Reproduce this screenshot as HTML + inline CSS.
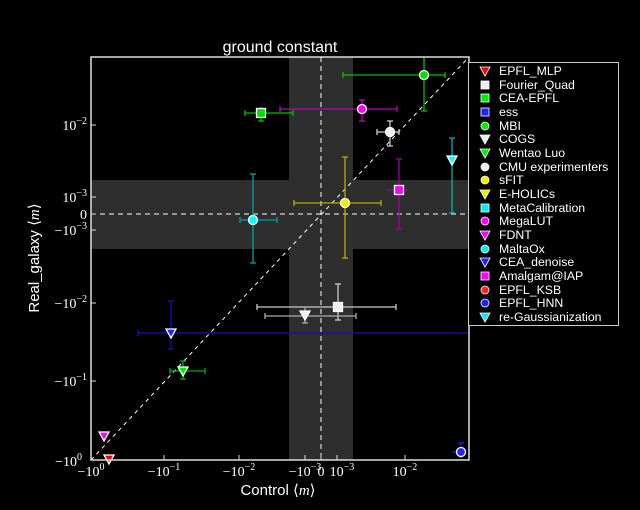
<!DOCTYPE html>
<html><head><style>body{margin:0;background:#000}svg{display:block}text{font-family:"Liberation Sans",sans-serif;fill:#fff}.s{font-family:"Liberation Serif",serif}</style></head><body>
<svg width="640" height="510" viewBox="0 0 640 510" xmlns="http://www.w3.org/2000/svg">
<rect width="640" height="510" fill="#000"/>
<rect x="91" y="180" width="378" height="69" fill="#2e2e2e"/>
<rect x="289" y="57" width="64" height="403" fill="#2e2e2e"/>
<line x1="91" y1="214" x2="469" y2="214" stroke="#fff" stroke-dasharray="5,4"/>
<line x1="321" y1="57" x2="321" y2="460" stroke="#fff" stroke-dasharray="5,4"/>
<line x1="91" y1="460" x2="469" y2="57" stroke="#fff" stroke-dasharray="4,4"/>
<g stroke-width="1.3">
<g stroke="#00c000"><line x1="343" y1="75" x2="445" y2="75"/><line x1="424" y1="57" x2="424" y2="111"/><line x1="343" y1="72" x2="343" y2="78"/><line x1="445" y1="72" x2="445" y2="78"/><line x1="421" y1="111" x2="427" y2="111"/></g>
<circle cx="424" cy="75" r="4.5" fill="#00e000" stroke="#fff"/>
<g stroke="#c000c0"><line x1="280" y1="109" x2="397" y2="109"/><line x1="362" y1="100" x2="362" y2="121"/><line x1="280" y1="106" x2="280" y2="112"/><line x1="397" y1="106" x2="397" y2="112"/><line x1="359" y1="100" x2="365" y2="100"/><line x1="359" y1="121" x2="365" y2="121"/></g>
<circle cx="362" cy="109" r="4.5" fill="#f0f" stroke="#fff"/>
<g stroke="#00c000"><line x1="245" y1="113" x2="293" y2="113"/><line x1="261" y1="107" x2="261" y2="121"/><line x1="245" y1="110" x2="245" y2="116"/><line x1="293" y1="110" x2="293" y2="116"/><line x1="258" y1="121" x2="264" y2="121"/></g>
<rect x="256.5" y="108.5" width="9" height="9" fill="#00e000" stroke="#fff"/>
<g stroke="#ccc"><line x1="377" y1="132" x2="399" y2="132"/><line x1="390" y1="121" x2="390" y2="146"/><line x1="377" y1="129" x2="377" y2="135"/><line x1="399" y1="129" x2="399" y2="135"/><line x1="387" y1="121" x2="393" y2="121"/><line x1="387" y1="146" x2="393" y2="146"/></g>
<circle cx="390" cy="132" r="4.5" fill="#eee" stroke="#fff"/>
<g stroke="#00b0b0"><line x1="452" y1="138" x2="452" y2="213"/><line x1="449" y1="138" x2="455" y2="138"/><line x1="449" y1="213" x2="455" y2="213"/></g>
<polygon points="447,156 457,156 452,165" fill="#0ff" stroke="#fff"/>
<g stroke="#a000a0"><line x1="387" y1="190" x2="408" y2="190"/><line x1="399" y1="159" x2="399" y2="229"/><line x1="396" y1="159" x2="402" y2="159"/><line x1="396" y1="229" x2="402" y2="229"/></g>
<rect x="394.5" y="185.5" width="9" height="9" fill="#f0f" stroke="#fff"/>
<g stroke="#b0b000"><line x1="294" y1="203" x2="381" y2="203"/><line x1="345" y1="157" x2="345" y2="258"/><line x1="294" y1="200" x2="294" y2="206"/><line x1="381" y1="200" x2="381" y2="206"/><line x1="342" y1="157" x2="348" y2="157"/><line x1="342" y1="258" x2="348" y2="258"/></g>
<circle cx="345" cy="203" r="4.5" fill="#ee0" stroke="#fff"/>
<g stroke="#00a0a0"><line x1="240" y1="220" x2="277" y2="220"/><line x1="253" y1="174" x2="253" y2="263"/><line x1="240" y1="217" x2="240" y2="223"/><line x1="277" y1="217" x2="277" y2="223"/><line x1="250" y1="174" x2="256" y2="174"/><line x1="250" y1="263" x2="256" y2="263"/></g>
<circle cx="253" cy="220" r="4.5" fill="#0ff" stroke="#fff"/>
<g stroke="#ccc"><line x1="257" y1="307" x2="396" y2="307"/><line x1="338" y1="284" x2="338" y2="320"/><line x1="257" y1="304" x2="257" y2="310"/><line x1="396" y1="304" x2="396" y2="310"/><line x1="335" y1="284" x2="341" y2="284"/><line x1="335" y1="320" x2="341" y2="320"/></g>
<rect x="333.5" y="302.5" width="9" height="9" fill="#eee" stroke="#fff"/>
<g stroke="#aaa"><line x1="265" y1="316" x2="356" y2="316"/><line x1="305" y1="308" x2="305" y2="323"/><line x1="265" y1="313" x2="265" y2="319"/><line x1="356" y1="313" x2="356" y2="319"/><line x1="302" y1="323" x2="308" y2="323"/></g>
<polygon points="300,311 310,311 305,320" fill="#eee" stroke="#fff"/>
<g stroke="#1010c0"><line x1="138" y1="333" x2="469" y2="333"/><line x1="171" y1="301" x2="171" y2="349"/><line x1="138" y1="330" x2="138" y2="336"/><line x1="168" y1="301" x2="174" y2="301"/><line x1="168" y1="349" x2="174" y2="349"/></g>
<polygon points="166,329 176,329 171,338" fill="#22f" stroke="#fff"/>
<g stroke="#00b000"><line x1="170" y1="371" x2="205" y2="371"/><line x1="183" y1="361" x2="183" y2="379"/><line x1="170" y1="368" x2="170" y2="374"/><line x1="205" y1="368" x2="205" y2="374"/><line x1="180" y1="361" x2="186" y2="361"/><line x1="180" y1="379" x2="186" y2="379"/></g>
<polygon points="178,367 188,367 183,376" fill="#0e0" stroke="#fff"/>
<polygon points="99,432 109,432 104,441" fill="#f0f" stroke="#fff"/>
<polygon points="104,455 114,455 109,464" fill="#f00" stroke="#fff"/>
<g stroke="#2020e0"><line x1="461" y1="443" x2="461" y2="460"/><line x1="458" y1="443" x2="464" y2="443"/><line x1="452" y1="452" x2="461" y2="452"/></g>
<circle cx="461" cy="452" r="4.5" fill="#22f" stroke="#fff"/>
</g>
<rect x="91" y="57" width="378" height="403" fill="none" stroke="#ddd" stroke-width="1.5"/>
<g stroke="#ddd">
<line x1="91" y1="125" x2="96" y2="125"/><line x1="91" y1="197" x2="96" y2="197"/><line x1="91" y1="214" x2="96" y2="214"/><line x1="91" y1="230" x2="96" y2="230"/><line x1="91" y1="303" x2="96" y2="303"/><line x1="91" y1="381" x2="96" y2="381"/>
<line x1="164" y1="460" x2="164" y2="455"/><line x1="239" y1="460" x2="239" y2="455"/><line x1="305" y1="460" x2="305" y2="455"/><line x1="321" y1="460" x2="321" y2="455"/><line x1="337" y1="460" x2="337" y2="455"/><line x1="405" y1="460" x2="405" y2="455"/>
</g>
<text x="280" y="52" font-size="16" text-anchor="middle">ground constant</text>
<g font-size="14" text-anchor="end">
<text class="s" x="87" y="130">10<tspan font-size="10" dy="-6">−2</tspan></text>
<text class="s" x="87" y="202">10<tspan font-size="10" dy="-6">−3</tspan></text>
<text class="s" x="87" y="219">0</text>
<text class="s" x="87" y="235">−10<tspan font-size="10" dy="-6">−3</tspan></text>
<text class="s" x="87" y="308">−10<tspan font-size="10" dy="-6">−2</tspan></text>
<text class="s" x="87" y="386">−10<tspan font-size="10" dy="-6">−1</tspan></text>
<text class="s" x="82" y="466">−10<tspan font-size="10" dy="-6">0</tspan></text>
</g>
<g font-size="14" text-anchor="middle">
<text class="s" x="91" y="476">−10<tspan font-size="10" dy="-6">0</tspan></text>
<text class="s" x="164" y="476">−10<tspan font-size="10" dy="-6">−1</tspan></text>
<text class="s" x="239" y="476">−10<tspan font-size="10" dy="-6">−2</tspan></text>
<text class="s" x="305" y="476">−10<tspan font-size="10" dy="-6">−3</tspan></text>
<text class="s" x="321" y="476">0</text>
<text class="s" x="342" y="476">10<tspan font-size="10" dy="-6">−3</tspan></text>
<text class="s" x="405" y="476">10<tspan font-size="10" dy="-6">−2</tspan></text>
</g>
<text x="278" y="495" font-size="15" text-anchor="middle">Control ⟨<tspan class="s" font-style="italic">m</tspan>⟩</text>
<text transform="translate(39,258) rotate(-90)" font-size="15" text-anchor="middle">Real_galaxy ⟨<tspan class="s" font-style="italic">m</tspan>⟩</text>
<rect x="468.5" y="62.5" width="150" height="263" fill="#000" stroke="#ccc"/>
<g font-size="12.3">
<text x="499" y="75">EPFL_MLP</text><text x="499" y="89">Fourier_Quad</text><text x="499" y="102">CEA-EPFL</text><text x="499" y="116">ess</text><text x="499" y="130">MBI</text><text x="499" y="143">COGS</text><text x="499" y="157">Wentao Luo</text><text x="499" y="171">CMU experimenters</text><text x="499" y="184">sFIT</text><text x="499" y="198">E-HOLICs</text><text x="499" y="212">MetaCalibration</text><text x="499" y="225">MegaLUT</text><text x="499" y="239">FDNT</text><text x="499" y="253">MaltaOx</text><text x="499" y="266">CEA_denoise</text><text x="499" y="280">Amalgam@IAP</text><text x="499" y="294">EPFL_KSB</text><text x="499" y="307">EPFL_HNN</text><text x="499" y="321">re-Gaussianization</text>
</g>
<g stroke="#fff" stroke-width="0.8">
<polygon points="480,67 490,67 485,76" fill="#f00"/>
<rect x="481" y="81" width="8" height="8" fill="#eee"/>
<rect x="481" y="94" width="8" height="8" fill="#0e0"/>
<rect x="481" y="108" width="8" height="8" fill="#22f"/>
<circle cx="485" cy="126" r="4" fill="#0e0"/>
<polygon points="480,135 490,135 485,144" fill="#eee"/>
<polygon points="480,149 490,149 485,158" fill="#0e0"/>
<circle cx="485" cy="167" r="4" fill="#eee"/>
<circle cx="485" cy="180" r="4" fill="#ee0"/>
<polygon points="480,190 490,190 485,199" fill="#ee0"/>
<rect x="481" y="204" width="8" height="8" fill="#0ee"/>
<circle cx="485" cy="221" r="4" fill="#f0f"/>
<polygon points="480,231 490,231 485,240" fill="#f0f"/>
<circle cx="485" cy="249" r="4" fill="#0ee"/>
<polygon points="480,258 490,258 485,267" fill="#22f"/>
<rect x="481" y="272" width="8" height="8" fill="#f0f"/>
<circle cx="485" cy="290" r="4" fill="#f22"/>
<circle cx="485" cy="303" r="4" fill="#22f"/>
<polygon points="480,313 490,313 485,322" fill="#0ee"/>
</g>
</svg>
</body></html>
